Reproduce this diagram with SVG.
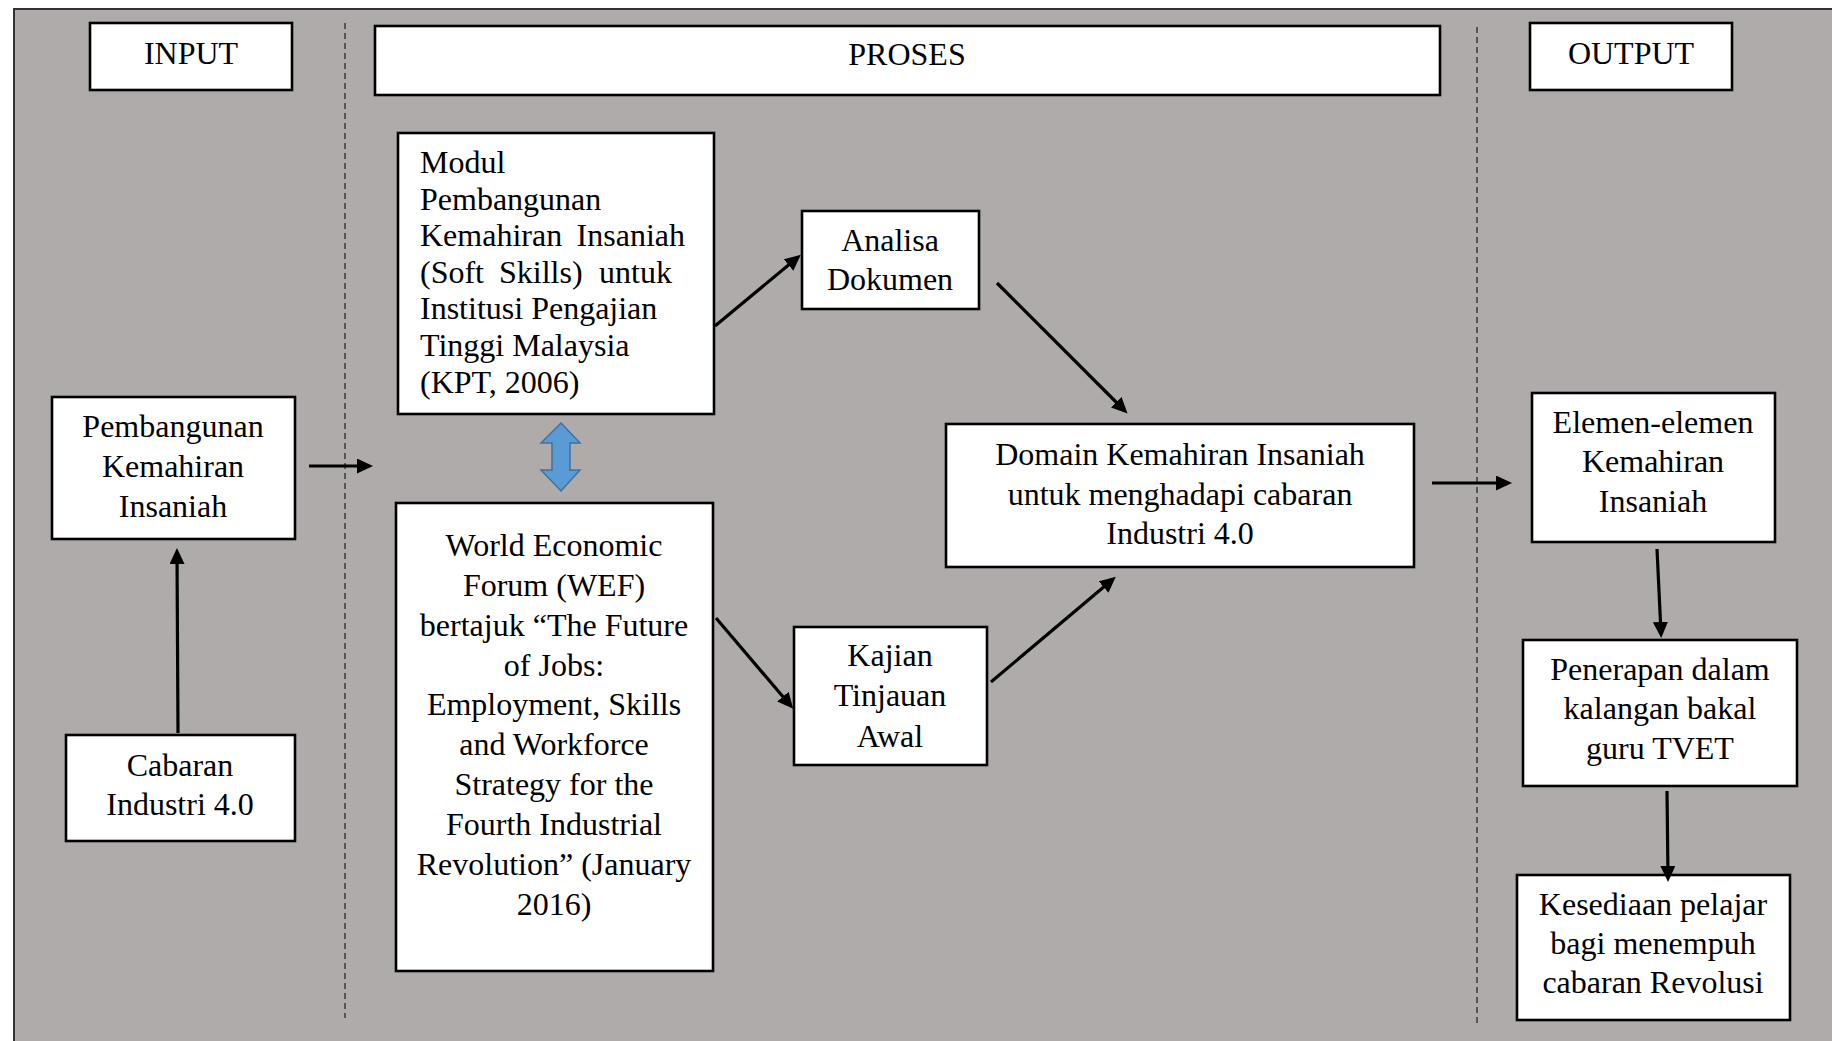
<svg xmlns="http://www.w3.org/2000/svg" width="1832" height="1041" viewBox="0 0 1832 1041">
<style>
.box{fill:#ffffff;stroke:#000000;stroke-width:2.6}
.t{font-family:"Liberation Serif","Times New Roman",serif;font-size:32px;fill:#000000}
.c{text-anchor:middle}
.e{text-anchor:end}
.conn{stroke:#000000;stroke-width:3.2;fill:none;marker-end:url(#ah)}
.dash{stroke:#333333;stroke-width:1.4;stroke-dasharray:6 4;fill:none}
</style>
<defs>
<marker id="ah" markerUnits="userSpaceOnUse" markerWidth="16" markerHeight="15" refX="11" refY="7.5" orient="auto">
<path d="M0,0 L16,7.5 L0,15 z" fill="#000000"/>
</marker>
</defs>
<rect x="0" y="0" width="1832" height="1041" fill="#ffffff"/>
<rect x="14" y="9" width="1830" height="1040" fill="#afabaa" stroke="#333333" stroke-width="2"/>
<g id="dividers">
<line class="dash" x1="345" y1="23" x2="345" y2="1018"/>
<line class="dash" x1="1477" y1="27" x2="1477" y2="1023"/>
</g>
<g id="input-header"><rect class="box" x="90" y="23" width="202" height="67"/><text class="t c" x="191" y="64">INPUT</text></g>
<g id="proses-header"><rect class="box" x="375" y="26" width="1065" height="69"/><text class="t c" x="907" y="65">PROSES</text></g>
<g id="output-header"><rect class="box" x="1530" y="23" width="202" height="67"/><text class="t c" x="1631" y="64">OUTPUT</text></g>
<g id="pembangunan"><rect class="box" x="52" y="397" width="243" height="142"/>
<text class="t c" x="173" y="437">Pembangunan</text><text class="t c" x="173" y="477">Kemahiran</text><text class="t c" x="173" y="517">Insaniah</text></g>
<g id="cabaran"><rect class="box" x="66" y="735" width="229" height="106"/>
<text class="t c" x="180" y="776">Cabaran</text><text class="t c" x="180" y="815">Industri 4.0</text></g>
<g id="modul"><rect class="box" x="398" y="133" width="316" height="281"/>
<text class="t" x="420" y="173">Modul</text>
<text class="t" x="420" y="210">Pembangunan</text>
<text class="t" x="420" y="246">Kemahiran</text><text class="t e" x="685" y="246">Insaniah</text>
<text class="t" x="420" y="283">(Soft</text><text class="t" x="499" y="283">Skills)</text><text class="t" x="599" y="283">untuk</text>
<text class="t" x="420" y="319">Institusi Pengajian</text>
<text class="t" x="420" y="356">Tinggi Malaysia</text>
<text class="t" x="420" y="393">(KPT, 2006)</text></g>
<g id="double-arrow"><polygon points="561,423 580,443 570,443 570,470 580,470 561,491 541,470 552,470 552,443 541,443" fill="#5b9bd5" stroke="#41719c" stroke-width="1.5"/></g>
<g id="wef"><rect class="box" x="396" y="503" width="317" height="468"/>
<text class="t c" x="554" y="556">World Economic</text>
<text class="t c" x="554" y="596">Forum (WEF)</text>
<text class="t c" x="554" y="636">bertajuk “The Future</text>
<text class="t c" x="554" y="676">of Jobs:</text>
<text class="t c" x="554" y="715">Employment, Skills</text>
<text class="t c" x="554" y="755">and Workforce</text>
<text class="t c" x="554" y="795">Strategy for the</text>
<text class="t c" x="554" y="835">Fourth Industrial</text>
<text class="t c" x="554" y="875">Revolution” (January</text>
<text class="t c" x="554" y="915">2016)</text></g>
<g id="analisa"><rect class="box" x="802" y="211" width="177" height="98"/>
<text class="t c" x="890" y="251">Analisa</text><text class="t c" x="890" y="290">Dokumen</text></g>
<g id="kajian"><rect class="box" x="794" y="627" width="193" height="138"/>
<text class="t c" x="890" y="666">Kajian</text><text class="t c" x="890" y="706">Tinjauan</text><text class="t c" x="890" y="747">Awal</text></g>
<g id="domain"><rect class="box" x="946" y="424" width="468" height="143"/>
<text class="t c" x="1180" y="465">Domain Kemahiran Insaniah</text>
<text class="t c" x="1180" y="505">untuk menghadapi cabaran</text>
<text class="t c" x="1180" y="544">Industri 4.0</text></g>
<g id="elemen"><rect class="box" x="1532" y="393" width="243" height="149"/>
<text class="t c" x="1653" y="433">Elemen-elemen</text><text class="t c" x="1653" y="472">Kemahiran</text><text class="t c" x="1653" y="512">Insaniah</text></g>
<g id="penerapan"><rect class="box" x="1523" y="640" width="274" height="146"/>
<text class="t c" x="1660" y="680">Penerapan dalam</text><text class="t c" x="1660" y="719">kalangan bakal</text><text class="t c" x="1660" y="759">guru TVET</text></g>
<g id="kesediaan"><rect class="box" x="1517" y="875" width="273" height="145"/>
<text class="t c" x="1653" y="915">Kesediaan pelajar</text><text class="t c" x="1653" y="954">bagi menempuh</text><text class="t c" x="1653" y="993">cabaran Revolusi</text></g>
<g id="connectors">
<line class="conn" x1="309" y1="466" x2="368" y2="466"/>
<line class="conn" x1="178" y1="733" x2="177" y2="553"/>
<line class="conn" x1="715" y1="326" x2="797" y2="258"/>
<line class="conn" x1="716" y1="618" x2="790" y2="705"/>
<line class="conn" x1="997" y1="283" x2="1124" y2="410"/>
<line class="conn" x1="991" y1="682" x2="1112" y2="580"/>
<line class="conn" x1="1432" y1="483" x2="1507" y2="483"/>
<line class="conn" x1="1657" y1="549" x2="1661" y2="633"/>
<line class="conn" x1="1667" y1="791" x2="1668" y2="877"/>
</g>
</svg>
